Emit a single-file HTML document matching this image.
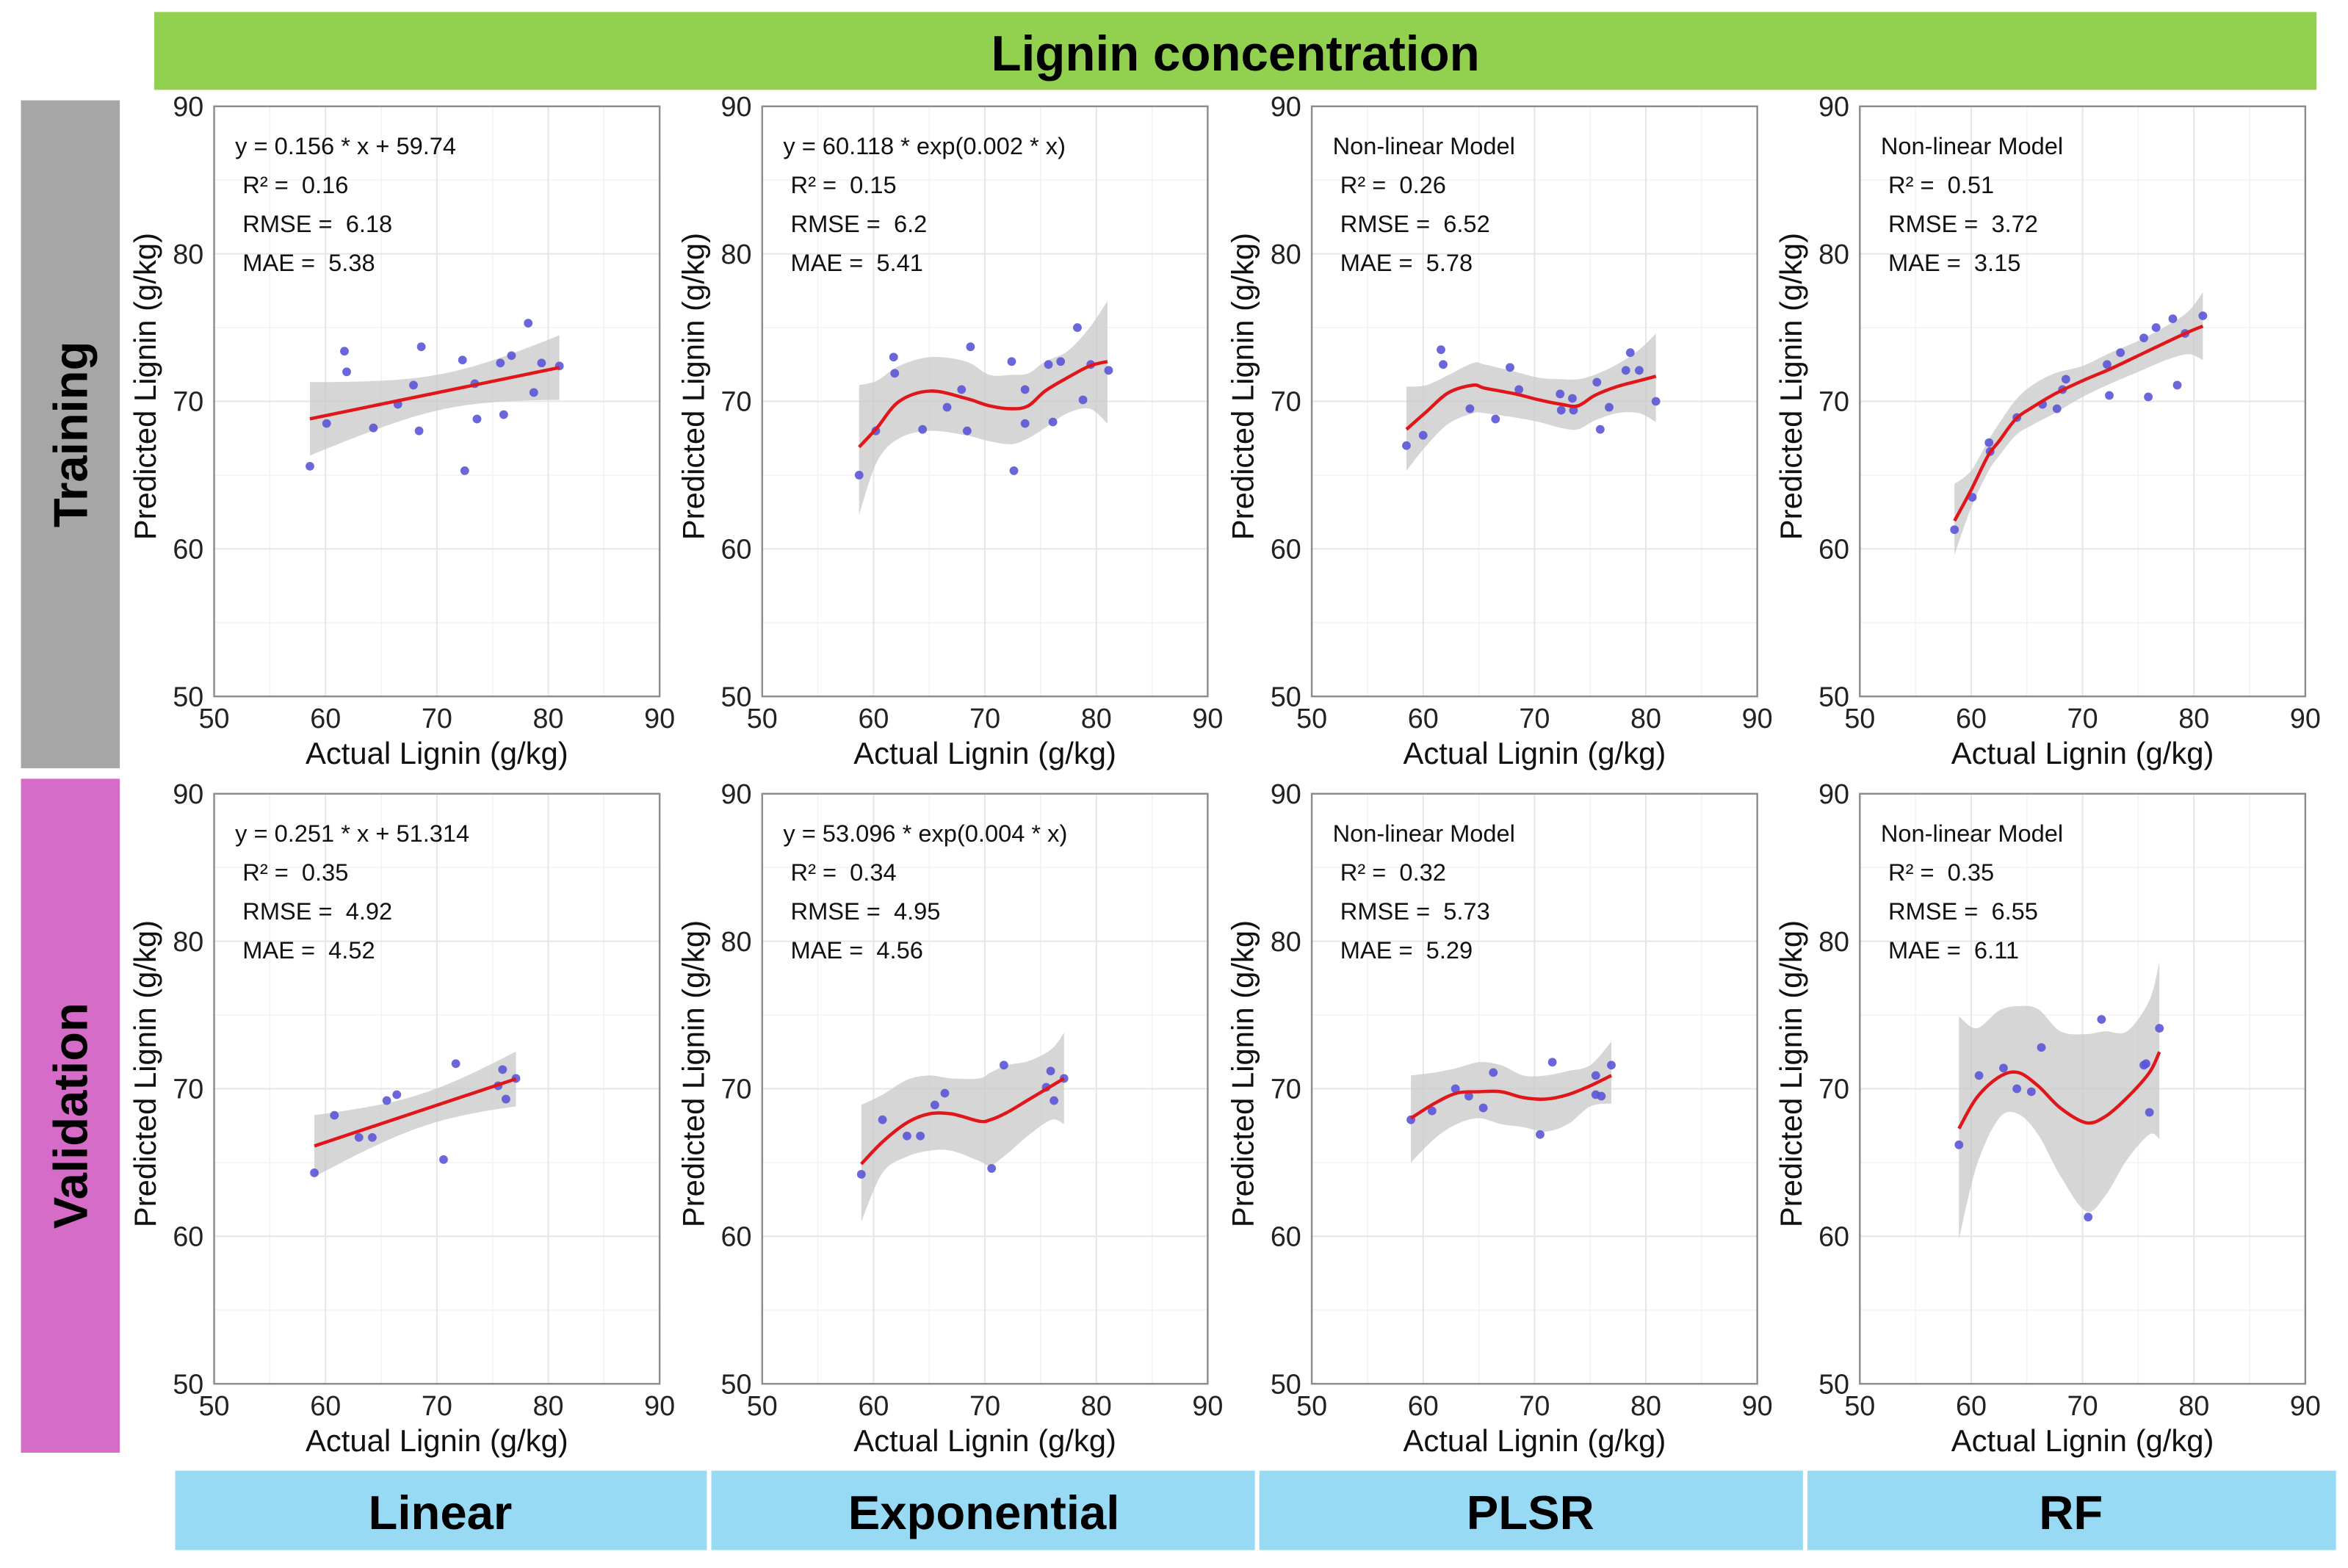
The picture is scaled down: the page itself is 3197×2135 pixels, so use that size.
<!DOCTYPE html>
<html><head><meta charset="utf-8">
<style>
html,body{margin:0;padding:0;background:#fff;}
svg{display:block;font-family:"Liberation Sans",Arial,sans-serif;}
svg text{white-space:pre;}
</style></head>
<body>
<svg id="fig" width="3197" height="2135" viewBox="0 0 1568 1047" preserveAspectRatio="none" xmlns="http://www.w3.org/2000/svg" xml:space="preserve">
  <rect x="103" y="8" width="1444" height="52" fill="#92d050"/>
  <text x="825" y="47" text-anchor="middle" font-size="33" font-weight="bold" fill="#000">Lignin concentration</text>
  <rect x="14" y="67" width="66" height="446" fill="#a6a6a6"/>
  <text transform="translate(58,290) rotate(-90)" text-anchor="middle" font-size="32" font-weight="bold" fill="#000">Training</text>
  <rect x="14" y="520" width="66" height="450" fill="#d56cc8"/>
  <text transform="translate(58,745) rotate(-90)" text-anchor="middle" font-size="32" font-weight="bold" fill="#000">Validation</text>
  <rect x="117" y="982" width="355" height="53" fill="#98d9f3"/>
  <text x="294" y="1021" text-anchor="middle" font-size="32" font-weight="bold">Linear</text>
  <rect x="475" y="982" width="363" height="53" fill="#98d9f3"/>
  <text x="657" y="1021" text-anchor="middle" font-size="32" font-weight="bold">Exponential</text>
  <rect x="841" y="982" width="363" height="53" fill="#98d9f3"/>
  <text x="1022" y="1021" text-anchor="middle" font-size="32" font-weight="bold">PLSR</text>
  <rect x="1207" y="982" width="353" height="53" fill="#98d9f3"/>
  <text x="1383" y="1021" text-anchor="middle" font-size="32" font-weight="bold">RF</text>
</svg>
<script>
// ---- data ----
const ticks = [50, 60, 70, 80, 90];
const tickLabels = ["50", "60", "70", "80", "90"];

const trainLinearX = [58.6,60.1,61.7,61.9,64.3,66.5,67.9,68.4,68.6,72.3,72.5,73.4,73.6,75.7,76.0,76.7,78.2,78.7,79.4,81.0];
const trainLinearY = [65.6,68.5,73.4,72.0,68.2,69.8,71.1,68.0,73.7,72.8,65.3,71.2,68.8,72.6,69.1,73.1,75.3,70.6,72.6,72.4];

const trainExpX = [58.7,60.2,61.8,61.9,64.4,66.6,67.9,68.4,68.7,72.4,72.6,73.6,73.6,75.7,76.1,76.8,78.3,78.8,79.5,81.1];
const trainExpY = [65.0,68.0,73.0,71.9,68.1,69.6,70.8,68.0,73.7,72.7,65.3,70.8,68.5,72.5,68.6,72.7,75.0,70.1,72.5,72.1];
const trainExpCurveX = [58.7,60.3,62.3,65.1,68.3,70.4,72.4,73.9,75.4,77.4,79.4,81.0];
const trainExpCurveY = [66.9,68.2,70.0,70.7,70.2,69.7,69.5,69.7,70.7,71.6,72.4,72.7];
const trainExpBandHi = [71.1,71.4,72.4,73.0,72.7,71.8,71.8,71.9,72.7,73.4,75.0,76.8];
const trainExpBandLo = [62.3,65.9,67.5,68.0,67.7,67.3,67.1,67.5,68.2,69.2,69.5,68.5];

const trainPlsrX = [58.5,60.0,61.6,61.8,64.2,66.5,67.8,68.6,72.3,72.4,73.4,73.5,75.6,75.9,76.7,78.2,78.6,79.4,80.9];
const trainPlsrY = [67.0,67.7,73.5,72.5,69.5,68.8,72.3,70.8,70.5,69.4,70.2,69.4,71.3,68.1,69.6,72.1,73.3,72.1,70.0];
const trainPlsrCurveX = [58.5,60.3,62.3,64.5,65.5,68.3,70.4,72.4,73.9,75.4,77.4,79.4,80.9];
const trainPlsrCurveY = [68.1,69.3,70.6,71.1,70.9,70.5,70.1,69.8,69.7,70.4,71.0,71.4,71.7];
const trainPlsrBandHi = [71.0,71.1,71.8,72.6,72.5,72.0,71.6,71.5,71.5,71.8,72.5,73.5,74.6];
const trainPlsrBandLo = [65.3,67.0,68.5,69.2,69.2,68.9,68.6,68.2,68.1,68.7,69.2,69.2,68.6];

const trainRfX = [58.5,60.1,61.6,61.7,64.1,66.4,67.7,68.2,68.5,72.2,72.4,73.4,75.5,75.9,76.6,78.1,78.5,79.2,80.8];
const trainRfY = [61.3,63.5,67.2,66.6,68.9,69.8,69.5,70.8,71.5,72.5,70.4,73.3,74.3,70.3,75.0,75.6,71.1,74.6,75.8];
const trainRfCurveX = [58.5,60.0,61.5,62.5,64.0,65.5,67.5,70.0,72.5,75.0,77.5,79.5,80.8];
const trainRfCurveY = [61.9,64.0,66.3,67.3,68.8,69.6,70.5,71.4,72.2,73.1,74.0,74.7,75.1];
const trainRfBandHi = [64.4,65.3,67.3,68.5,70.1,71.1,71.9,72.4,73.3,74.1,75.1,76.1,77.4];
const trainRfBandLo = [59.6,62.8,65.2,66.3,67.7,68.4,69.2,70.3,71.2,72.0,72.8,73.2,72.8];

const valLinearX = [59.0,60.8,63.0,64.2,65.5,66.4,70.6,71.7,75.5,75.9,76.2,77.1];
const valLinearY = [64.3,68.2,66.7,66.7,69.2,69.6,65.2,71.7,70.2,71.3,69.3,70.7];

const valExpX = [58.9,60.8,63.0,64.2,65.5,66.4,70.6,71.7,75.5,75.9,76.2,77.1];
const valExpY = [64.2,67.9,66.8,66.8,68.9,69.7,64.6,71.6,70.1,71.2,69.2,70.7];
const valExpCurveX = [58.9,60.8,63.0,65.0,67.0,69.5,70.5,72.0,74.0,76.0,77.1];
const valExpCurveY = [64.9,66.4,67.7,68.3,68.3,67.8,67.9,68.4,69.3,70.2,70.7];
const valExpBandHi = [68.9,69.6,70.6,70.9,70.7,70.7,71.1,71.6,71.9,72.7,73.8];
const valExpBandLo = [61.0,64.3,65.4,65.8,65.8,65.1,64.8,65.6,66.9,67.9,67.6];

const valPlsrX = [58.9,60.8,62.9,64.1,65.4,66.3,70.5,71.6,75.5,75.5,76.0,76.9];
const valPlsrY = [67.9,68.5,70.0,69.5,68.7,71.1,66.9,71.8,70.9,69.6,69.5,71.6];
const valPlsrCurveX = [58.9,61,63,65,67,69,71,73,75,76.9];
const valPlsrCurveY = [68.0,69.0,69.7,69.8,69.8,69.4,69.3,69.6,70.2,70.9];
const valPlsrBandHi = [70.9,71.1,71.4,71.8,71.6,70.9,70.9,71.2,71.6,73.2];
const valPlsrBandLo = [65.0,66.6,67.6,68.0,67.6,67.4,67.1,67.6,68.8,69.0];

const valRfX = [58.9,60.7,62.9,64.1,65.4,66.3,70.5,71.7,75.5,75.7,76.0,76.9];
const valRfY = [66.2,70.9,71.4,70.0,69.8,72.8,61.3,74.7,71.6,71.7,68.4,74.1];
const valRfCurveX = [58.9,60.5,62.5,64.2,66,68,70.3,72,74,76,76.9];
const valRfCurveY = [67.3,69.4,70.8,71.1,70.2,68.7,67.7,68.1,69.4,71.1,72.5];
const valRfBandHi = [74.9,74.1,75.3,75.6,75.4,73.9,73.7,73.9,73.9,76.0,78.6];
const valRfBandLo = [59.8,64.8,68.0,68.3,66.9,64.1,61.7,62.7,65.2,66.9,66.6];

// ---- layout ----
const NS = "http://www.w3.org/2000/svg";
const svg = document.getElementById("fig");
const colLeft = [143, 509, 876, 1242];
const rowTop = [71, 530];
const PW = 297.5, PH = 394;

function mk(tag, attrs, parent) {
  const e = document.createElementNS(NS, tag);
  for (const k in attrs) e.setAttribute(k, attrs[k]);
  (parent || svg).appendChild(e);
  return e;
}
function smoothPath(pts) {
  let d = "M" + pts[0][0] + "," + pts[0][1];
  for (let i = 0; i < pts.length - 1; i++) {
    const p0 = pts[Math.max(0, i - 1)], p1 = pts[i], p2 = pts[i + 1], p3 = pts[Math.min(pts.length - 1, i + 2)];
    const c1x = p1[0] + (p2[0] - p0[0]) / 6, c1y = p1[1] + (p2[1] - p0[1]) / 6;
    const c2x = p2[0] - (p3[0] - p1[0]) / 6, c2y = p2[1] - (p3[1] - p1[1]) / 6;
    d += " C" + c1x + "," + c1y + " " + c2x + "," + c2y + " " + p2[0] + "," + p2[1];
  }
  return d;
}
function linFit(xs, ys) {
  const n = xs.length;
  const mx = xs.reduce((a, b) => a + b, 0) / n, my = ys.reduce((a, b) => a + b, 0) / n;
  let sxx = 0, sxy = 0;
  for (let i = 0; i < n; i++) { sxx += (xs[i] - mx) ** 2; sxy += (xs[i] - mx) * (ys[i] - my); }
  const b = sxy / sxx, a = my - b * mx;
  let sse = 0;
  for (let i = 0; i < n; i++) sse += (ys[i] - a - b * xs[i]) ** 2;
  const s = Math.sqrt(sse / (n - 2));
  return { a, b, mx, sxx, s, n };
}

const panels = [
  { r: 0, c: 0, name: "training-linear", xs: trainLinearX, ys: trainLinearY, linear: true,
    ann: ["y = 0.156 * x + 59.74", "R\u00b2 =  0.16", "RMSE =  6.18", "MAE =  5.38"] },
  { r: 0, c: 1, name: "training-exponential", xs: trainExpX, ys: trainExpY, cx: trainExpCurveX, cy: trainExpCurveY, hi: trainExpBandHi, lo: trainExpBandLo,
    ann: ["y = 60.118 * exp(0.002 * x)", "R\u00b2 =  0.15", "RMSE =  6.2", "MAE =  5.41"] },
  { r: 0, c: 2, name: "training-plsr", xs: trainPlsrX, ys: trainPlsrY, cx: trainPlsrCurveX, cy: trainPlsrCurveY, hi: trainPlsrBandHi, lo: trainPlsrBandLo,
    ann: ["Non-linear Model", "R\u00b2 =  0.26", "RMSE =  6.52", "MAE =  5.78"] },
  { r: 0, c: 3, name: "training-rf", xs: trainRfX, ys: trainRfY, cx: trainRfCurveX, cy: trainRfCurveY, hi: trainRfBandHi, lo: trainRfBandLo,
    ann: ["Non-linear Model", "R\u00b2 =  0.51", "RMSE =  3.72", "MAE =  3.15"] },
  { r: 1, c: 0, name: "validation-linear", xs: valLinearX, ys: valLinearY, linear: true,
    ann: ["y = 0.251 * x + 51.314", "R\u00b2 =  0.35", "RMSE =  4.92", "MAE =  4.52"] },
  { r: 1, c: 1, name: "validation-exponential", xs: valExpX, ys: valExpY, cx: valExpCurveX, cy: valExpCurveY, hi: valExpBandHi, lo: valExpBandLo,
    ann: ["y = 53.096 * exp(0.004 * x)", "R\u00b2 =  0.34", "RMSE =  4.95", "MAE =  4.56"] },
  { r: 1, c: 2, name: "validation-plsr", xs: valPlsrX, ys: valPlsrY, cx: valPlsrCurveX, cy: valPlsrCurveY, hi: valPlsrBandHi, lo: valPlsrBandLo,
    ann: ["Non-linear Model", "R\u00b2 =  0.32", "RMSE =  5.73", "MAE =  5.29"] },
  { r: 1, c: 3, name: "validation-rf", xs: valRfX, ys: valRfY, cx: valRfCurveX, cy: valRfCurveY, hi: valRfBandHi, lo: valRfBandLo,
    ann: ["Non-linear Model", "R\u00b2 =  0.35", "RMSE =  6.55", "MAE =  6.11"] }
];

panels.forEach(p => {
  const L = colLeft[p.c], T = rowTop[p.r];
  const sx = v => L + (v - 50) / 40 * PW;
  const sy = v => T + PH - (v - 50) / 40 * PH;
  const g = mk("g", {});
  
  

  mk("rect", { x: L, y: T, width: PW, height: PH, fill: "#fff" }, g);
  [55, 65, 75, 85].forEach(v => {
    const gl = mk("line", { x1: sx(v), x2: sx(v), y1: T, y2: T + PH, stroke: "#f3f3f3", "stroke-width": 0.8 }, g);
    
    
    const gh = mk("line", { x1: L, x2: L + PW, y1: sy(v), y2: sy(v), stroke: "#f3f3f3", "stroke-width": 0.8 }, g);
    
    
  });
  [60, 70, 80].forEach(v => {
    const gl = mk("line", { x1: sx(v), x2: sx(v), y1: T, y2: T + PH, stroke: "#e6e6e6", "stroke-width": 1 }, g);
    
    
    const gh = mk("line", { x1: L, x2: L + PW, y1: sy(v), y2: sy(v), stroke: "#e6e6e6", "stroke-width": 1 }, g);
    
    
  });

  let bandPath, curvePath;
  if (p.linear) {
    const f = linFit(p.xs, p.ys);
    const x0 = Math.min(...p.xs), x1 = Math.max(...p.xs);
    const hiPts = [], loPts = [];
    for (let k = 0; k <= 30; k++) {
      const x = x0 + (x1 - x0) * k / 30;
      const yh = f.a + f.b * x;
      const se = f.s * Math.sqrt(1 / f.n + (x - f.mx) ** 2 / f.sxx);
      hiPts.push([sx(x), sy(yh + 2.1 * se)]);
      loPts.push([sx(x), sy(yh - 2.1 * se)]);
    }
    bandPath = "M" + hiPts.map(q => q.join(",")).join(" L") + " L" + loPts.reverse().map(q => q.join(",")).join(" L") + " Z";
    curvePath = "M" + sx(x0) + "," + sy(f.a + f.b * x0) + " L" + sx(x1) + "," + sy(f.a + f.b * x1);
  } else {
    const hiPts = p.cx.map((x, i) => [sx(x), sy(p.hi[i])]);
    const loPts = p.cx.map((x, i) => [sx(x), sy(p.lo[i])]).reverse();
    const lo = smoothPath(loPts).replace(/^M/, "L");
    bandPath = smoothPath(hiPts) + " " + lo + " Z";
    curvePath = smoothPath(p.cx.map((x, i) => [sx(x), sy(p.cy[i])]));
  }
  const band = mk("path", { d: bandPath, fill: "#c8c8c8", "fill-opacity": 0.75 }, g);
  
  

  p.xs.forEach((x, i) => {
    const pt = mk("circle", { cx: sx(x), cy: sy(p.ys[i]), r: 2.9, fill: "#5b55d8", "fill-opacity": 0.9 }, g);
    
    
  });
  const curve = mk("path", { d: curvePath, fill: "none", stroke: "#e0161b", "stroke-width": 2.2 }, g);
  
  

  const border = mk("rect", { x: L, y: T, width: PW, height: PH, fill: "none", stroke: "#8c8c8c", "stroke-width": 1.2 }, g);
  
  

  ticks.forEach((v, i) => {
    const ty = mk("text", { x: L - 7, y: sy(v) + 6.5, "text-anchor": "end", "font-size": 18.5, fill: "#222" }, g);
    ty.textContent = tickLabels[i];
    
    
    const tx = mk("text", { x: sx(v), y: T + PH + 21, "text-anchor": "middle", "font-size": 18.5, fill: "#222" }, g);
    tx.textContent = tickLabels[i];
    
    
  });
  const xt = mk("text", { x: L + PW / 2, y: T + PH + 45, "text-anchor": "middle", "font-size": 20.5, fill: "#111" }, g);
  xt.textContent = "Actual Lignin (g/kg)";
  
  
  const yt = mk("text", { transform: "translate(" + (L - 39) + "," + (T + PH / 2 - 10) + ") rotate(-90)", "text-anchor": "middle", "font-size": 20.5, fill: "#111" }, g);
  yt.textContent = "Predicted Lignin (g/kg)";
  
  

  p.ann.forEach((s, i) => {
    const at = mk("text", { x: L + (i === 0 ? 14 : 19), y: T + 32 + 26 * i, "font-size": 16, fill: "#111" }, g);
    at.textContent = s;
    
    
  });
});
</script>
</body></html>
